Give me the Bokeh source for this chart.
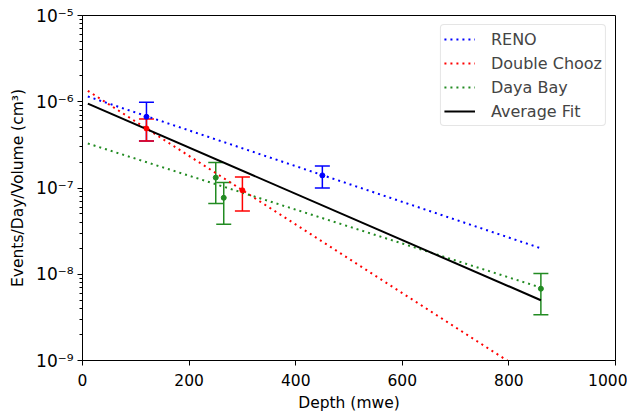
from bokeh.plotting import figure
from bokeh.models import (ColumnDataSource, Range1d, FixedTicker, CustomJSTickFormatter,
                          Whisker, TeeHead, Legend, LegendItem)
from bokeh.embed import file_html
from bokeh.resources import INLINE

# ---- data ----
reno_depth = [120, 450]
reno_rate = [6.7e-7, 1.4e-7]
reno_err = [3.2e-7, 4.0e-8]

dc_depth = [120, 300]
dc_rate = [4.9e-7, 9.4e-8]
dc_err = [1.4e-7, 4.0e-8]

db_depth = [250, 265, 860]
db_rate = [1.32e-7, 7.7e-8, 6.8e-9]
db_err = [6.6e-8, 3.9e-8, 3.4e-9]

# exponential fits: values at the ends of the fitted depth span
fit_depth = [10, 860]
reno_fit = [1.15e-6, 2.0e-8]
dc_fit = [1.34e-6, 5.6e-10]
db_fit = [3.28e-7, 7.0e-9]
avg_fit = [9.5e-7, 5.0e-9]

x_ticks = [0, 200, 400, 600, 800, 1000]
y_decades = [-9, -8, -7, -6, -5]

BLUE = "#0000ff"
RED = "#ff0000"
GREEN = "#228b22"
FONT = "DejaVu Sans"

p = figure(width=627, height=414, output_backend="svg", toolbar_location=None,
           y_axis_type="log", x_range=Range1d(0, 1000), y_range=Range1d(1e-9, 1e-5),
           min_border_left=82, min_border_right=12, min_border_top=15, min_border_bottom=54)
p.grid.visible = False
p.outline_line_color = "black"
p.outline_line_width = 1
p.background_fill_color = "white"
p.border_fill_color = "white"

# fit lines
r_reno = p.line(fit_depth, reno_fit, line_color=BLUE, line_width=2, line_dash="2 4")
r_dc = p.line(fit_depth, dc_fit, line_color=RED, line_width=2, line_dash="2 4")
r_db = p.line(fit_depth, db_fit, line_color=GREEN, line_width=2, line_dash="2 4")
r_avg = p.line(fit_depth, avg_fit, line_color="black", line_width=2)

# data points with error bars
for xs, ys, es, col in [(reno_depth, reno_rate, reno_err, BLUE),
                        (dc_depth, dc_rate, dc_err, RED),
                        (db_depth, db_rate, db_err, GREEN)]:
    src = ColumnDataSource(dict(x=xs, y=ys,
                                upper=[y + e for y, e in zip(ys, es)],
                                lower=[y - e for y, e in zip(ys, es)]))
    w = Whisker(source=src, base="x", upper="upper", lower="lower", dimension="height",
                line_color=col, line_width=1.5,
                upper_head=TeeHead(size=15, line_color=col, line_width=1.5),
                lower_head=TeeHead(size=15, line_color=col, line_width=1.5))
    p.add_layout(w)
    p.scatter("x", "y", source=src, size=5, color=col)

# axes
p.xaxis.ticker = FixedTicker(ticks=x_ticks)
p.xaxis.axis_label = "Depth (mwe)"
minor = [m * 10.0 ** d for d in y_decades[:-1] for m in range(2, 10)]
p.yaxis.ticker = FixedTicker(ticks=[10.0 ** d for d in y_decades], minor_ticks=minor)
p.yaxis.formatter = CustomJSTickFormatter(code="""
const e = Math.round(Math.log10(tick));
const sup = {'-':'\u207b','0':'\u2070','1':'\u00b9','2':'\u00b2','3':'\u00b3','4':'\u2074',
             '5':'\u2075','6':'\u2076','7':'\u2077','8':'\u2078','9':'\u2079'};
return '10' + String(e).split('').map(c => sup[c]).join('');
""")
p.yaxis.axis_label = "Events/Day/Volume (cm\u00b3)"
for ax in (p.xaxis[0], p.yaxis[0]):
    ax.axis_line_color = "black"
    ax.major_tick_line_color = "black"
    ax.minor_tick_line_color = "black"
    ax.major_tick_in = 0
    ax.major_tick_out = 5
    ax.minor_tick_in = 0
    ax.minor_tick_out = 3
    ax.major_label_text_font = FONT
    ax.major_label_text_font_size = "15.5px"
    ax.major_label_text_color = "black"
    ax.axis_label_text_font = FONT
    ax.axis_label_text_font_size = "15.5px"
    ax.axis_label_text_font_style = "normal"
    ax.axis_label_text_color = "black"
p.yaxis.major_label_text_font_size = "17px"
p.xaxis.axis_label_standoff = 5
p.yaxis.axis_label_standoff = 6
p.xaxis.major_label_standoff = 8
p.yaxis.major_label_standoff = 4

legend = Legend(items=[LegendItem(label="RENO", renderers=[r_reno]),
                       LegendItem(label="Double Chooz", renderers=[r_dc]),
                       LegendItem(label="Daya Bay", renderers=[r_db]),
                       LegendItem(label="Average Fit", renderers=[r_avg])],
                location="top_right")
legend.label_text_font = FONT
legend.label_text_font_size = "16px"
legend.glyph_width = 31
legend.glyph_height = 22
legend.label_height = 22
legend.spacing = 2
legend.label_standoff = 16
legend.padding = 3
legend.margin = 9
legend.border_line_color = "#cccccc"
legend.border_line_width = 1
legend.border_radius = 4
legend.background_fill_alpha = 0.8
p.add_layout(legend)

open("out.html", "w").write(file_html(p, INLINE))
